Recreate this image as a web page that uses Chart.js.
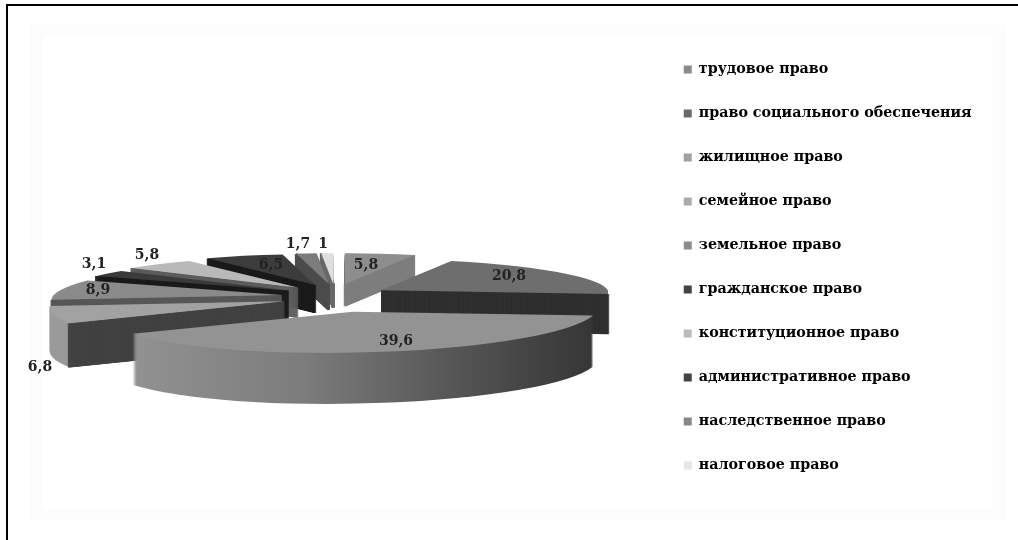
<!DOCTYPE html>
<html>
<head>
<meta charset="utf-8">
<script src="https://cdn.jsdelivr.net/npm/chart.js@4"></script>
<style>
  html, body { margin: 0; padding: 0; background: #fff; }
  #page { position: relative; width: 1018px; height: 540px; overflow: hidden; background: #fff; }
  /* the scan has a top and a left rule only */
  #ruleTop { position: absolute; left: 6px; top: 4px; right: 0; height: 2px; background: #000; }
  #ruleLeft { position: absolute; left: 6px; top: 4px; bottom: 0; width: 2px; background: #000; }
  #glow { position: absolute; left: 30px; top: 25px; width: 975px; height: 495px; background: #fcfcfc; }
  #inner { position: absolute; left: 43px; top: 36px; width: 949px; height: 474px; background: #fff; }
  canvas { position: absolute; left: 0; top: 0; filter: blur(0.45px); }
</style>
</head>
<body>
<div id="page">
  <div id="glow"></div>
  <div id="inner"></div>
  <div id="ruleTop"></div>
  <div id="ruleLeft"></div>
  <canvas id="pie" width="1018" height="540"></canvas>
</div>
<script>
const categories = ['трудовое право', 'право социального обеспечения', 'жилищное право', 'семейное право',
  'земельное право', 'гражданское право', 'конституционное право', 'административное право',
  'наследственное право', 'налоговое право'];
const shares = [5.8, 20.8, 39.6, 6.8, 8.9, 3.1, 5.8, 6.5, 1.7, 1];

const topColors = ['#8e8e8e', '#6e6e6e', '#939393', '#a2a2a2', '#8a8a8a', '#3a3a3a', '#b9b9b9', '#3c3c3c', '#7c7c7c', '#dedede'];
const legendColors = ['#8b8b8b', '#6a6a6a', '#a0a0a0', '#ababab', '#8c8c8c', '#444444', '#bcbcbc', '#444444', '#888888', '#e6e6e6'];
const outerWalls = ['#707070', '#333333', '#777777', '#9a9a9a', '#707070', '#222222', '#999999', '#222222', '#666666', '#bbbbbb'];
const radialWalls = ['#7f7f7f', '#303030', '#777777', '#414141', '#565656', '#1c1c1c', '#5c5c5c', '#1c1c1c', '#4c4c4c', '#6a6a6a'];
const wallDepths = [22, 40, 51, 44, 38, 34, 30, 28, 26, 24];
const labelSpots = [[366, 265], [509, 276], [396, 341], [40, 367], [98, 290], [94, 264], [147, 255], [271, 265], [298, 244], [323, 244]];

// the fake 3D view
const pieX = 335, pieY = 297, explodeX = 54, explodeY = 13;
const pieRadius = 229, camDist = 1500, tiltDist = 1100, tilt = 179;
const bigSliceNudge = [6, 2];
const textFont = 'bold 14px "DejaVu Serif"';

function project(theta, mid) {
  const z = pieRadius * Math.cos(theta);
  const s = camDist / (camDist + z + explodeX * Math.cos(mid));
  return [pieRadius * Math.sin(theta) * s, -tilt * z / (tiltDist + z)];
}

// affine that sends the flat arc onto its tilted, exploded place
function placeArc(ctx, arc, i) {
  const ts = arc.startAngle + Math.PI / 2, te = arc.endAngle + Math.PI / 2, mid = (ts + te) / 2;
  const r = arc.outerRadius;
  const us = [r * Math.sin(ts), -r * Math.cos(ts)], ue = [r * Math.sin(te), -r * Math.cos(te)];
  const ds = project(ts, mid), de = project(te, mid);
  const det = us[0] * ue[1] - us[1] * ue[0];
  const a = (ds[0] * ue[1] - de[0] * us[1]) / det, c = (de[0] * us[0] - ds[0] * ue[0]) / det;
  const b = (ds[1] * ue[1] - de[1] * us[1]) / det, d = (de[1] * us[0] - ds[1] * ue[0]) / det;
  if (i === 2) ctx.translate(bigSliceNudge[0], bigSliceNudge[1]);
  ctx.translate(pieX + explodeX * Math.sin(mid), pieY - explodeY * Math.cos(mid));
  ctx.transform(a, b, c, d, 0, 0);
  ctx.translate(-arc.x, -arc.y);
}

function ghostOf(arc, opts, props) {
  const g = Object.create(arc);
  g.options = Object.assign({}, arc.options, opts);
  return Object.assign(g, props || {});
}

function drawSlice(ctx, arc, i) {
  const ts = arc.startAngle + Math.PI / 2, te = arc.endAngle + Math.PI / 2;
  let outerFill = outerWalls[i];
  if (i === 2) {
    // the big slice has a shaded rim
    outerFill = ctx.createLinearGradient(arc.x - arc.outerRadius, 0, arc.x + arc.outerRadius, 0);
    outerFill.addColorStop(0, '#969696');
    outerFill.addColorStop(0.45, '#7c7c7c');
    outerFill.addColorStop(1, '#363636');
  }
  const depth = wallDepths[i];
  const rim = ghostOf(arc, { backgroundColor: outerFill, borderWidth: 0 });
  const sides = [];
  if (Math.sin(ts) < -0.01) sides.push({ startAngle: arc.startAngle, endAngle: arc.startAngle + 0.002 });
  if (Math.sin(te) > 0.01) sides.push({ startAngle: arc.endAngle - 0.002, endAngle: arc.endAngle });

  const shifted = (dy, fn) => {
    ctx.save();
    ctx.translate(0, dy);
    placeArc(ctx, arc, i);
    fn();
    ctx.restore();
  };
  for (let dy = depth; dy > 0; dy -= 1) shifted(dy, () => rim.draw(ctx));
  sides.forEach(side => {
    const wall = ghostOf(arc, { backgroundColor: radialWalls[i], borderColor: radialWalls[i], borderWidth: 4 },
      Object.assign({ circumference: 0.002 }, side));
    for (let dy = depth; dy > 0; dy -= 0.25) shifted(dy, () => wall.draw(ctx));
  });
  shifted(0, () => arc.draw(ctx));
}

const pie3d = {
  id: 'pie3d',
  beforeDatasetsDraw(chart) {
    const ctx = chart.ctx;
    const arcs = chart.getDatasetMeta(0).data;
    // back slices first
    const order = arcs.map((arc, i) => i).sort((p, q) => {
      const midOf = a => (a.startAngle + a.endAngle) / 2 + Math.PI / 2;
      return Math.cos(midOf(arcs[q])) - Math.cos(midOf(arcs[p]));
    });
    order.forEach(i => drawSlice(ctx, arcs[i], i));
    return false;
  },
  // returning false above also skips afterDatasetsDraw
  afterDraw(chart) {
    const ctx = chart.ctx;
    ctx.save();
    ctx.font = textFont;
    ctx.fillStyle = '#222222';
    ctx.textAlign = 'center';
    ctx.textBaseline = 'middle';
    shares.forEach((v, i) => ctx.fillText(String(v).replace('.', ','), labelSpots[i][0], labelSpots[i][1]));
    ctx.restore();
  }
};

new Chart(document.getElementById('pie').getContext('2d'), {
  type: 'pie',
  plugins: [pie3d],
  data: {
    labels: categories,
    datasets: [{ data: shares, backgroundColor: topColors, borderWidth: 0 }]
  },
  options: {
    responsive: false,
    animation: false,
    devicePixelRatio: 1,
    layout: { padding: { right: 36.5, bottom: 5 } },
    plugins: {
      tooltip: { enabled: false },
      legend: {
        position: 'right',
        labels: {
          boxWidth: 8,
          boxHeight: 8,
          padding: 29.75,
          color: '#1c1c1c',
          font: { family: '"DejaVu Serif"', size: 14.25, weight: 'bold' },
          generateLabels: () => categories.map((text, i) => ({
            text, fillStyle: legendColors[i], strokeStyle: legendColors[i], lineWidth: 0, index: i
          }))
        }
      }
    }
  }
});
</script>
</body>
</html>
